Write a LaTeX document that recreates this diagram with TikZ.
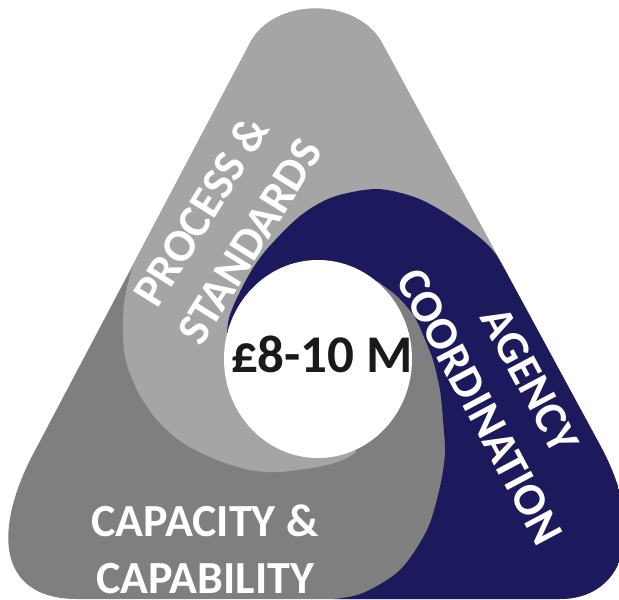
\documentclass[tikz,border=0pt]{standalone}
\usepackage{fontspec}
\setmainfont{Carlito}
\definecolor{lgray}{RGB}{165,165,165}
\definecolor{dgray}{RGB}{127,127,127}
\definecolor{navyb}{RGB}{28,25,92}
\definecolor{ink}{RGB}{26,26,26}
\begin{document}
\begin{tikzpicture}[x=1pt,y=-1pt,
  lbl/.style={text=white,font=\fontsize{46}{57}\selectfont\bfseries,align=center,inner sep=0pt},
  money/.style={text=ink,font=\fontsize{53}{60}\selectfont\bfseries,inner sep=0pt}]
\useasboundingbox (0,0) rectangle (619,600);
\clip (0,0) rectangle (619,600);
\begin{scope}
\clip (250,43) .. controls (274,-3) and (357,-3) .. (382,43) -- (600,445)
  .. controls (650,537) and (620,599) .. (560,599) -- (77,599)
  .. controls (5,599) and (-10,542) .. (30,460) -- cycle;
% dark gray base (capacity & capability)
\fill[dgray] (-50,-50) rectangle (700,700);
% light gray (process & standards)
\fill[lgray] (0,-50) -- (0,222) -- (147,222)
  -- plot[smooth] coordinates {(147,222) (133,265) (125,297) (123,323) (125,357) (137,390) (157,420) (183,443) (217,460) (250,470) (280,472) (323,466) (345,459) (356,452)}
  -- (318,359) -- (300,228) -- (490,253) -- (650,253) -- (650,-50) -- cycle;
% navy (agency coordination)
\fill[navyb] (227,333)
  -- plot[smooth] coordinates {(227,333) (229,318) (236,300) (250,273) (267,249) (300,216) (333,197) (377,189) (417,198) (453,218) (490,247) (515,285)}
  -- (700,285) -- (700,700) -- (300,700) -- (300,606)
  -- plot[smooth] coordinates {(300,606) (330,600) (363,593) (400,570) (427,530) (440,487) (445,453) (443,420) (440,390) (433,360) (424,337) (414,316) (397,296) (377,281)}
  -- (318,359) -- cycle;
% white centre
\fill[white] (318,359) ellipse [x radius=94pt, y radius=99pt];
\end{scope}
\node[money, anchor=base] (m) at (322,372) {£8-10 M};
\node[lbl] (cap) at (205,549) {CAPACITY \&\\CAPABILITY};
\node[lbl, rotate=58] (ps) at (225,226) {PROCESS \&\\STANDARDS};
\node[lbl, rotate=-62] (ag) at (505,393) {AGENCY\\COORDINATION};
\end{tikzpicture}
\end{document}
